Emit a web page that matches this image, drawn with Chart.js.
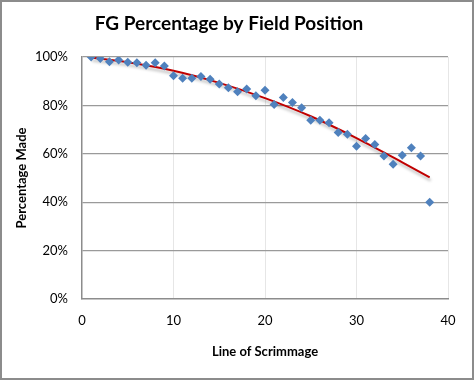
<!DOCTYPE html>
<html><head><meta charset="utf-8">
<script src="https://cdn.jsdelivr.net/npm/chart.js@4"></script>
<style>html,body{margin:0;padding:0;background:#fff}#c{display:block}</style>
</head><body>
<canvas id="c" width="474" height="380"></canvas>
<script>
const lineOfScrimmage = [1,2,3,4,5,6,7,8,9,10,11,12,13,14,15,16,17,18,19,20,21,22,23,24,25,26,27,28,29,30,31,32,33,34,35,36,37,38];
const pctMade = [100,99.4,98,98.8,97.8,97.6,96.6,97.6,96.3,92.3,91.2,91.2,91.9,90.8,88.8,87.3,85.6,86.8,84,86.3,80.4,83.3,81.2,79,73.9,73.9,72.8,68.8,68.1,63.1,66.3,63.8,59.1,55.7,59.4,62.5,59.1,40];
const trendX = [1,5,10,15,20,25,30,35,38];
const trendY = [99.8,97.8,94.3,89.3,83,75.5,66.5,56.5,50.3];
const yTicks = [0,20,40,60,80,100];
const xTicks = [0,10,20,30,40];

const FONT = "Lato, 'Open Sans', sans-serif";

const borderPlugin = {
  id: 'frame',
  afterDraw(chart) {
    const ctx = chart.ctx;
    ctx.save();
    ctx.strokeStyle = '#8c8c8c';
    ctx.lineWidth = 2;
    ctx.strokeRect(1, 1, chart.width - 2, chart.height - 2);
    ctx.restore();
  }
};
const shadowPlugin = {
  id: 'shadow',
  beforeDatasetDraw(chart, args) {
    const ctx = chart.ctx;
    ctx.save();
    if (args.index === 0) {
      ctx.shadowColor = 'rgba(0,0,0,0.28)';
      ctx.shadowOffsetX = 1;
      ctx.shadowOffsetY = 3;
      ctx.shadowBlur = 3;
    }
  },
  afterDatasetDraw(chart) { chart.ctx.restore(); }
};

new Chart(document.getElementById('c'), {
  type: 'scatter',
  data: {
    datasets: [
      {
        label: 'Trend',
        type: 'line',
        data: trendX.map((x, i) => ({x, y: trendY[i]})),
        borderColor: '#c00000',
        borderWidth: 2,
        pointRadius: 0,
        cubicInterpolationMode: 'monotone',
        fill: false,
        order: 2
      },
      {
        label: 'FG %',
        data: lineOfScrimmage.map((x, i) => ({x, y: pctMade[i]})),
        pointStyle: 'rectRot',
        pointRadius: 4.5,
        backgroundColor: '#4f81bd',
        borderColor: '#4f81bd',
        borderWidth: 0,
        order: 1
      }
    ]
  },
  options: {
    responsive: false,
    animation: false,
    devicePixelRatio: 1,
    layout: { padding: { left: 10, right: 26, top: 0, bottom: 16 } },
    plugins: {
      legend: { display: false },
      tooltip: { enabled: false },
      title: {
        display: true,
        text: 'FG Percentage by Field Position',
        color: '#000',
        font: { family: FONT, size: 19, weight: 'bold', lineHeight: 1.2 },
        padding: { top: 12.5, bottom: 21.7 }
      }
    },
    scales: {
      x: {
        type: 'linear',
        min: 0, max: 40,
        afterBuildTicks(s) { s.ticks = xTicks.map(v => ({value: v})); },
        afterFit(s) { s.height = 380 - 16 - 299; },
        ticks: { color: '#000', font: { family: FONT, size: 13 }, padding: 14 },
        grid: { color: (c) => c.tick && c.tick.value === 0 ? 'rgba(0,0,0,0)' : '#e6e6e6', drawTicks: false },
        border: { color: '#8c8c8c', width: 1.5 },
        title: { display: true, text: 'Line of Scrimmage', color: '#000', font: { family: FONT, size: 13, weight: 'bold' } }
      },
      y: {
        type: 'linear',
        min: 0, max: 100,
        afterBuildTicks(s) { s.ticks = yTicks.map(v => ({value: v})); },
        afterFit(s) { s.width = 82 - 10; },
        ticks: { color: '#000', font: { family: FONT, size: 13 }, padding: 14, callback: v => v + '%' },
        grid: { color: (c) => c.tick && c.tick.value === 0 ? 'rgba(0,0,0,0)' : '#9a9a9a', drawTicks: false, lineWidth: 1.2 },
        border: { color: '#8c8c8c', width: 1.5 },
        title: { display: true, text: 'Percentage Made', color: '#000', font: { family: FONT, size: 13, weight: 'bold' } }
      }
    }
  },
  plugins: [shadowPlugin, borderPlugin]
});
</script>
</body></html>
